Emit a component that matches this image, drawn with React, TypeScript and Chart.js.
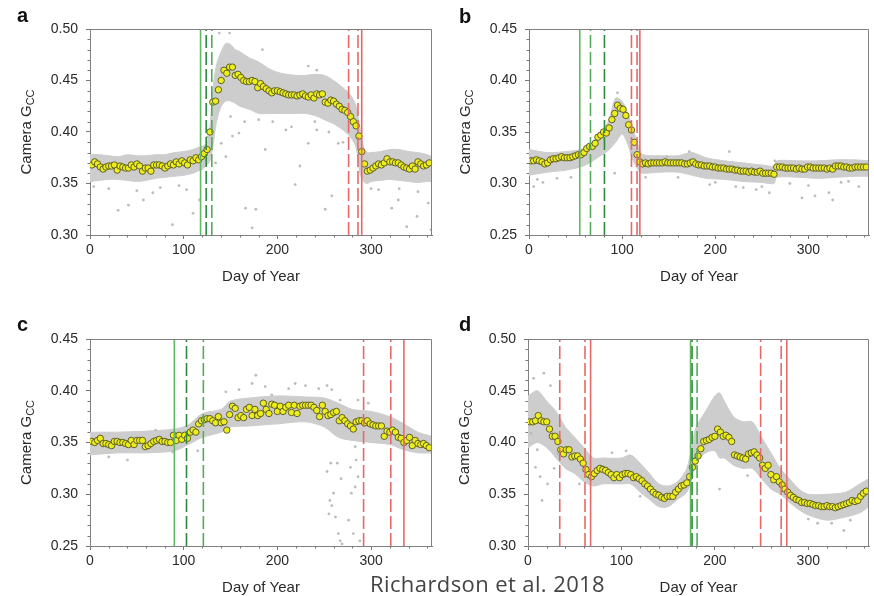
import React, { useEffect, useRef } from "react";
import Chart from "chart.js/auto";

const FONT = '"Liberation Sans", Arial, Helvetica, sans-serif';

// ---- shared x data ----
const DAYS = [2,5,8,11,14,17,20,23,26,29,32,35,38,41,44,47,50,53,56,59,62,65,68,71,74,77,80,83,86,89,92,95,98,101,104,107,110,113,116,119,122,125,128,131,134,137,140,143,146,149,152,155,158,161,164,167,170,173,176,179,182,185,188,191,194,197,200,203,206,209,212,215,218,221,224,227,230,233,236,239,242,245,248,251,254,257,260,263,266,269,272,275,278,281,284,287,290,293,296,299,302,305,308,311,314,317,320,323,326,329,332,335,338,341,344,347,350,353,356,359,362];
const X_TICKS = [0, 100, 200, 300];

// ---- panel a ----
const A_GCC = [0.368,0.371,0.369,0.366,0.364,0.366,0.367,0.367,0.368,0.363,0.367,0.366,0.365,0.365,0.368,0.366,0.369,0.367,0.362,0.365,0.365,0.362,0.368,0.368,0.368,0.367,0.365,0.367,0.369,0.368,0.371,0.369,0.372,0.370,0.368,0.373,0.372,0.375,0.373,0.376,0.379,0.383,0.400,0.429,0.430,0.441,0.450,0.460,0.457,0.463,0.463,0.455,0.456,0.453,0.450,0.449,0.449,0.450,0.449,0.443,0.447,0.444,0.442,0.440,0.438,0.440,0.440,0.439,0.438,0.437,0.436,0.436,0.436,0.435,0.436,0.437,0.435,0.434,0.436,0.433,0.437,0.436,0.437,0.429,0.428,0.431,0.430,0.427,0.425,0.422,0.421,0.419,0.415,0.410,0.406,0.396,0.381,0.369,0.362,0.363,0.365,0.367,0.369,0.368,0.370,0.374,0.371,0.371,0.370,0.370,0.368,0.366,0.365,0.364,0.367,0.364,0.371,0.369,0.367,0.368,0.370];
const A_BAND_DAYS = [0,10,20,30,40,50,60,70,80,90,100,110,115,120,125,128,131,135,140,145,150,155,160,170,180,190,200,210,220,230,240,250,260,270,278,284,288,292,296,300,310,320,330,340,350,360,365];
const A_BAND_HI = [0.378,0.378,0.377,0.376,0.378,0.377,0.377,0.378,0.378,0.380,0.381,0.383,0.385,0.386,0.390,0.405,0.440,0.465,0.478,0.486,0.485,0.480,0.478,0.472,0.468,0.462,0.458,0.456,0.455,0.455,0.456,0.455,0.450,0.443,0.436,0.425,0.405,0.385,0.380,0.380,0.381,0.383,0.383,0.381,0.380,0.378,0.376];
const A_BAND_LO = [0.352,0.353,0.354,0.354,0.353,0.352,0.353,0.355,0.356,0.357,0.358,0.360,0.362,0.364,0.368,0.372,0.385,0.410,0.425,0.430,0.430,0.428,0.425,0.422,0.418,0.418,0.418,0.418,0.418,0.418,0.416,0.412,0.408,0.402,0.395,0.385,0.360,0.352,0.350,0.352,0.353,0.354,0.353,0.352,0.351,0.352,0.352];
const A_OUT_DAYS = [4,30,41,57,67,88,103,110,117,134,138,140,145,149,152,159,166,173,177,180,184,187,209,219,224,233,233,242,242,251,258,265,308,322,329,338,349,361,364,20,50,75,95,125,150,165,195,215,240,255,270,300,330,350];
const A_OUT_GCC = [0.347,0.324,0.329,0.334,0.341,0.310,0.344,0.321,0.334,0.370,0.496,0.389,0.376,0.496,0.396,0.399,0.326,0.307,0.325,0.412,0.480,0.383,0.402,0.349,0.367,0.464,0.389,0.460,0.402,0.325,0.338,0.389,0.344,0.326,0.334,0.308,0.318,0.331,0.305,0.345,0.343,0.346,0.348,0.395,0.415,0.410,0.410,0.405,0.410,0.400,0.390,0.345,0.345,0.342];
const A_Y_TICKS = [0.30, 0.35, 0.40, 0.45, 0.50];
const A_GREEN_SOLID = [118];
const A_GREEN_DASH_DARK = [124];
const A_GREEN_DASH_LIGHT = [130];
const A_RED_DASH = [276, 286];
const A_RED_SOLID = [290];

// ---- panel b ----
const B_GCC = [0.322,0.322,0.323,0.322,0.321,0.319,0.320,0.323,0.324,0.324,0.325,0.326,0.325,0.325,0.325,0.326,0.327,0.328,0.328,0.330,0.334,0.336,0.336,0.339,0.345,0.347,0.350,0.349,0.354,0.362,0.368,0.376,0.373,0.372,0.366,0.357,0.352,0.340,0.328,0.321,0.319,0.320,0.319,0.320,0.320,0.320,0.320,0.320,0.321,0.320,0.320,0.320,0.320,0.320,0.320,0.319,0.319,0.320,0.321,0.319,0.318,0.318,0.317,0.317,0.317,0.316,0.316,0.315,0.315,0.315,0.314,0.314,0.314,0.313,0.313,0.312,0.312,0.312,0.311,0.312,0.311,0.311,0.312,0.310,0.310,0.310,0.310,0.309,0.316,0.316,0.316,0.315,0.315,0.315,0.315,0.314,0.315,0.314,0.314,0.316,0.316,0.315,0.315,0.315,0.315,0.315,0.314,0.315,0.314,0.317,0.317,0.317,0.316,0.316,0.315,0.315,0.316,0.316,0.316,0.316,0.316];
const B_BAND_DAYS = [0,20,40,55,65,75,85,93,100,106,112,118,122,140,160,175,190,210,230,250,263,266,290,310,330,350,365];
const B_BAND_HI = [0.333,0.330,0.331,0.333,0.338,0.347,0.360,0.383,0.380,0.368,0.352,0.335,0.328,0.327,0.327,0.330,0.325,0.322,0.320,0.318,0.317,0.322,0.322,0.322,0.323,0.323,0.322];
const B_BAND_LO = [0.308,0.311,0.313,0.316,0.320,0.326,0.332,0.340,0.348,0.338,0.322,0.312,0.310,0.311,0.311,0.308,0.305,0.304,0.302,0.301,0.300,0.306,0.306,0.305,0.306,0.307,0.307];
const B_OUT_DAYS = [5,9,15,30,45,89,92,95,148,172,194,200,215,222,230,244,250,258,264,280,293,300,307,322,326,335,343,354,110,125,160];
const B_OUT_GCC = [0.297,0.304,0.301,0.305,0.306,0.355,0.310,0.388,0.326,0.331,0.299,0.301,0.331,0.297,0.296,0.294,0.297,0.291,0.322,0.300,0.286,0.298,0.288,0.291,0.284,0.301,0.302,0.297,0.330,0.306,0.306];
const B_Y_TICKS = [0.25, 0.30, 0.35, 0.40, 0.45];
const B_GREEN_SOLID = [54.5];
const B_GREEN_DASH_DARK = [81];
const B_GREEN_DASH_LIGHT = [66];
const B_RED_DASH = [110, 116];
const B_RED_SOLID = [119];

// ---- panel c ----
const C_GCC = [0.351,0.350,0.352,0.354,0.349,0.349,0.348,0.347,0.351,0.351,0.350,0.350,0.349,0.348,0.352,0.348,0.352,0.352,0.352,0.346,0.347,0.349,0.351,0.352,0.353,0.351,0.351,0.350,0.350,0.357,0.352,0.357,0.353,0.357,0.354,0.360,0.362,0.360,0.368,0.371,0.372,0.373,0.373,0.371,0.369,0.375,0.369,0.370,0.362,0.377,0.385,0.383,0.374,0.376,0.374,0.382,0.384,0.376,0.382,0.376,0.378,0.388,0.382,0.378,0.387,0.386,0.380,0.385,0.380,0.384,0.386,0.379,0.386,0.378,0.385,0.386,0.386,0.386,0.386,0.384,0.381,0.375,0.386,0.380,0.376,0.377,0.379,0.380,0.371,0.374,0.371,0.368,0.366,0.363,0.370,0.371,0.371,0.369,0.371,0.368,0.367,0.366,0.366,0.366,0.356,0.361,0.360,0.362,0.360,0.355,0.354,0.350,0.352,0.355,0.347,0.352,0.349,0.348,0.349,0.347,0.345];
const C_BAND_DAYS = [0,30,60,90,105,120,140,150,170,200,230,250,265,280,300,320,335,350,365];
const C_BAND_HI = [0.360,0.360,0.361,0.363,0.367,0.378,0.382,0.390,0.393,0.395,0.394,0.393,0.388,0.382,0.380,0.375,0.368,0.360,0.356];
const C_BAND_LO = [0.338,0.340,0.340,0.342,0.348,0.355,0.360,0.365,0.366,0.368,0.370,0.365,0.355,0.352,0.350,0.348,0.343,0.340,0.340];
const C_OUT_DAYS = [253,256,258,255,260,262,265,267,269,276,279,283,284,286,281,288,264,268,257,278,283,173,177,187,194,212,219,230,244,253,258,267,286,297,145,159,88,40,20,70,115];
const C_OUT_GCC = [0.322,0.294,0.289,0.281,0.301,0.278,0.262,0.255,0.252,0.275,0.301,0.307,0.333,0.317,0.262,0.255,0.330,0.315,0.330,0.326,0.346,0.407,0.415,0.404,0.396,0.402,0.407,0.405,0.402,0.405,0.401,0.391,0.391,0.388,0.399,0.401,0.341,0.333,0.336,0.362,0.342];
const C_Y_TICKS = [0.25, 0.30, 0.35, 0.40, 0.45];
const C_GREEN_SOLID = [90];
const C_GREEN_DASH_DARK = [103];
const C_GREEN_DASH_LIGHT = [121];
const C_RED_DASH = [292, 321];
const C_RED_SOLID = [335];

// ---- panel d ----
const D_GCC = [0.420,0.420,0.421,0.426,0.421,0.420,0.420,0.413,0.406,0.406,0.401,0.393,0.389,0.393,0.393,0.386,0.387,0.387,0.384,0.380,0.374,0.369,0.367,0.370,0.373,0.375,0.374,0.373,0.371,0.369,0.366,0.369,0.366,0.369,0.370,0.370,0.369,0.366,0.367,0.365,0.363,0.360,0.358,0.355,0.352,0.350,0.349,0.347,0.346,0.348,0.348,0.348,0.352,0.355,0.358,0.359,0.361,0.367,0.376,0.382,0.387,0.394,0.401,0.402,0.403,0.405,0.406,0.413,0.410,0.406,0.407,0.405,0.401,0.388,0.387,0.386,0.385,0.384,0.389,0.390,0.391,0.388,0.385,0.378,0.375,0.378,0.369,0.364,0.367,0.362,0.359,0.355,0.352,0.349,0.347,0.345,0.344,0.342,0.342,0.341,0.341,0.340,0.339,0.339,0.338,0.338,0.339,0.338,0.338,0.337,0.338,0.339,0.340,0.341,0.342,0.344,0.343,0.344,0.348,0.351,0.353];
const D_BAND_DAYS = [0,10,20,30,40,50,60,70,80,100,110,120,130,140,150,160,170,175,180,190,200,205,210,220,230,240,250,260,270,280,290,300,320,340,355,365];
const D_BAND_HI = [0.445,0.450,0.440,0.430,0.415,0.405,0.395,0.385,0.385,0.385,0.388,0.380,0.370,0.360,0.358,0.362,0.375,0.395,0.415,0.430,0.445,0.448,0.440,0.425,0.420,0.420,0.405,0.390,0.375,0.365,0.355,0.350,0.350,0.352,0.360,0.365];
const D_BAND_LO = [0.395,0.400,0.395,0.385,0.375,0.370,0.362,0.358,0.360,0.360,0.360,0.352,0.345,0.338,0.338,0.345,0.352,0.365,0.380,0.390,0.392,0.385,0.385,0.378,0.375,0.375,0.365,0.355,0.350,0.342,0.335,0.330,0.325,0.328,0.332,0.338];
const D_OUT_DAYS = [3,10,13,15,21,8,28,32,6,17,24,205,325,338,345,55,90,105,120,235,300,310];
const D_OUT_GCC = [0.409,0.393,0.367,0.344,0.360,0.376,0.375,0.389,0.462,0.467,0.455,0.355,0.322,0.315,0.325,0.360,0.390,0.392,0.348,0.368,0.326,0.322];
const D_Y_TICKS = [0.30, 0.35, 0.40, 0.45, 0.50];
const D_GREEN_SOLID = [174];
const D_GREEN_DASH_DARK = [175.6];
const D_GREEN_DASH_LIGHT = [181];
const D_RED_DASH = [34, 61, 249, 271];
const D_RED_SOLID = [67, 277];

const C_GREEN = "#62b862";
const C_GREEN_DARK = "#2f8a3c";
const C_GREEN_LIGHT = "#52ad58";
const C_RED = "#e46a6a";
const DASH = [13, 4];
const BAND = "#cdcdcd";

type VLine = { days: number[]; color: string; dash: number[] };

type PanelProps = {
  left: number; top: number; width: number; height: number;
  area: { left: number; right: number; top: number; bottom: number };
  label: string; labelX: number; labelY: number;
  gcc: number[];
  bandDays: number[]; bandHi: number[]; bandLo: number[];
  outDays: number[]; outGcc: number[];
  yTicks: number[];
  vlines: VLine[];
};

function Panel(p: PanelProps) {
  const ref = useRef<HTMLCanvasElement | null>(null);
  useEffect(() => {
    if (!ref.current) return;
    const yMin = p.yTicks[0];
    const yMax = p.yTicks[p.yTicks.length - 1];
    const datasets: any[] = [];
    p.vlines.forEach((v) =>
      v.days.forEach((d) =>
        datasets.push({
          type: "line",
          data: [{ x: d, y: yMin }, { x: d, y: yMax }],
          borderColor: v.color,
          borderWidth: 1.6,
          borderDash: v.dash,
          pointRadius: 0,
          fill: false,
          tension: 0,
          order: 0,
        })
      )
    );
    datasets.push({
      type: "scatter",
      data: DAYS.map((d, i) => ({ x: d, y: p.gcc[i] })),
      pointRadius: 3.2,
      pointBackgroundColor: "#eded1c",
      pointBorderColor: "#5e5e2c",
      pointBorderWidth: 1,
      order: 1,
    });
    datasets.push({
      type: "scatter",
      data: p.outDays.map((d, i) => ({ x: d, y: p.outGcc[i] })),
      pointRadius: 1.4,
      pointBackgroundColor: "#bcbcbc",
      pointBorderWidth: 0,
      order: 2,
    });
    const loIdx = datasets.length;
    datasets.push({
      type: "line",
      data: p.bandDays.map((d, i) => ({ x: d, y: p.bandLo[i] })),
      borderColor: BAND,
      borderWidth: 1,
      pointRadius: 0,
      fill: false,
      tension: 0.3,
      order: 4,
    });
    datasets.push({
      type: "line",
      data: p.bandDays.map((d, i) => ({ x: d, y: p.bandHi[i] })),
      borderColor: BAND,
      borderWidth: 1,
      backgroundColor: BAND,
      pointRadius: 0,
      fill: loIdx,
      tension: 0.3,
      order: 3,
    });

    const area = p.area;
    const deco = {
      id: "deco",
      afterDraw(chart: any) {
        const { ctx, chartArea: ca, scales } = chart;
        const x = scales.x, y = scales.y;
        ctx.save();
        ctx.strokeStyle = "#808080";
        ctx.lineWidth = 1;
        ctx.beginPath();
        ctx.moveTo(Math.round(ca.left) + 0.5, Math.round(ca.top) + 0.5);
        ctx.lineTo(Math.round(ca.right) - 0.5, Math.round(ca.top) + 0.5);
        ctx.lineTo(Math.round(ca.right) - 0.5, Math.round(ca.bottom) + 0.5);
        ctx.stroke();
        // minor ticks
        ctx.strokeStyle = "#777";
        ctx.beginPath();
        for (let v = 20; v <= 365; v += 20) {
          if (v % 100 === 0) continue;
          const px = Math.round(x.getPixelForValue(v)) + 0.5;
          ctx.moveTo(px, Math.round(ca.bottom));
          ctx.lineTo(px, Math.round(ca.bottom) + 2.5);
        }
        const k0 = Math.round(yMin * 100), k1 = Math.round(yMax * 100);
        for (let k = k0 + 1; k < k1; k++) {
          if (k % 5 === 0) continue;
          const py = Math.round(y.getPixelForValue(k / 100)) + 0.5;
          ctx.moveTo(Math.round(ca.left) - 2.5, py);
          ctx.lineTo(Math.round(ca.left), py);
        }
        ctx.stroke();
        // titles
        ctx.fillStyle = "#2a2a2a";
        ctx.font = `15px ${FONT}`;
        ctx.textAlign = "center";
        ctx.textBaseline = "alphabetic";
        ctx.fillText("Day of Year", (ca.left + ca.right) / 2, ca.bottom + 46);
        // y title with subscript
        const main = "Camera G";
        const sub = "CC";
        ctx.font = `15px ${FONT}`;
        const wm = ctx.measureText(main).width;
        ctx.font = `11px ${FONT}`;
        const ws = ctx.measureText(sub).width;
        const tot = wm + ws;
        ctx.translate(ca.left - 63, (ca.top + ca.bottom) / 2);
        ctx.rotate(-Math.PI / 2);
        ctx.textAlign = "left";
        ctx.textBaseline = "middle";
        ctx.font = `15px ${FONT}`;
        ctx.fillText(main, -tot / 2, 0);
        ctx.font = `11px ${FONT}`;
        ctx.fillText(sub, -tot / 2 + wm, 4);
        ctx.setTransform(1, 0, 0, 1, 0, 0);
        // panel label
        ctx.font = `bold 20px ${FONT}`;
        ctx.fillStyle = "#111";
        ctx.textAlign = "left";
        ctx.textBaseline = "alphabetic";
        ctx.fillText(p.label, p.labelX, p.labelY);
        ctx.restore();
      },
    };

    const tickFont = { family: FONT, size: 14 };
    const chart = new Chart(ref.current, {
      type: "scatter",
      data: { datasets },
      options: {
        animation: false,
        responsive: false,
        devicePixelRatio: 1,
        events: [],
        layout: { padding: { left: 0, top: area.top, right: p.width - area.right, bottom: 0 } },
        plugins: { legend: { display: false }, tooltip: { enabled: false } },
        scales: {
          x: {
            type: "linear",
            position: "bottom",
            min: 0,
            max: 365,
            afterBuildTicks: (s: any) => { s.ticks = X_TICKS.map((v) => ({ value: v })); },
            afterFit: (s: any) => { s.height = p.height - area.bottom; },
            ticks: { color: "#2a2a2a", font: tickFont, padding: 3, maxRotation: 0, autoSkip: false, callback: (v: any) => String(v) },
            grid: { drawOnChartArea: false, drawTicks: true, tickLength: 4, tickColor: "#777" },
            border: { display: true, color: "#808080", width: 1 },
          },
          y: {
            type: "linear",
            position: "left",
            min: yMin,
            max: yMax,
            afterBuildTicks: (s: any) => { s.ticks = p.yTicks.map((v) => ({ value: v })); },
            afterFit: (s: any) => { s.width = area.left; },
            ticks: { color: "#2a2a2a", font: tickFont, padding: 8, autoSkip: false, callback: (v: any) => Number(v).toFixed(2) },
            grid: { drawOnChartArea: false, drawTicks: true, tickLength: 4, tickColor: "#777" },
            border: { display: true, color: "#808080", width: 1 },
          },
        },
      } as any,
      plugins: [deco],
    });
    return () => chart.destroy();
  }, []);
  return (
    <canvas
      ref={ref}
      width={p.width}
      height={p.height}
      style={{ position: "absolute", left: p.left, top: p.top, width: p.width, height: p.height }}
    />
  );
}

function lines(gs: number[], gdd: number[], gdl: number[], rd: number[], rs: number[]): VLine[] {
  return [
    { days: rs, color: C_RED, dash: [] },
    { days: rd, color: C_RED, dash: DASH },
    { days: gdl, color: C_GREEN_LIGHT, dash: DASH },
    { days: gdd, color: C_GREEN_DARK, dash: DASH },
    { days: gs, color: C_GREEN, dash: [] },
  ];
}

export default function App() {
  return (
    <div style={{ position: "absolute", left: 0, top: 0, width: 874, height: 596, background: "#fff", overflow: "hidden" }}>
      <Panel left={0} top={0} width={437} height={300} area={{ left: 90, right: 433, top: 29, bottom: 235 }}
        label="a" labelX={17} labelY={22} gcc={A_GCC} bandDays={A_BAND_DAYS} bandHi={A_BAND_HI} bandLo={A_BAND_LO}
        outDays={A_OUT_DAYS} outGcc={A_OUT_GCC} yTicks={A_Y_TICKS}
        vlines={lines(A_GREEN_SOLID, A_GREEN_DASH_DARK, A_GREEN_DASH_LIGHT, A_RED_DASH, A_RED_SOLID)} />
      <Panel left={437} top={0} width={437} height={300} area={{ left: 92, right: 435, top: 29, bottom: 235 }}
        label="b" labelX={22} labelY={23} gcc={B_GCC} bandDays={B_BAND_DAYS} bandHi={B_BAND_HI} bandLo={B_BAND_LO}
        outDays={B_OUT_DAYS} outGcc={B_OUT_GCC} yTicks={B_Y_TICKS}
        vlines={lines(B_GREEN_SOLID, B_GREEN_DASH_DARK, B_GREEN_DASH_LIGHT, B_RED_DASH, B_RED_SOLID)} />
      <Panel left={0} top={300} width={437} height={296} area={{ left: 90, right: 433, top: 39, bottom: 246 }}
        label="c" labelX={17} labelY={31} gcc={C_GCC} bandDays={C_BAND_DAYS} bandHi={C_BAND_HI} bandLo={C_BAND_LO}
        outDays={C_OUT_DAYS} outGcc={C_OUT_GCC} yTicks={C_Y_TICKS}
        vlines={lines(C_GREEN_SOLID, C_GREEN_DASH_DARK, C_GREEN_DASH_LIGHT, C_RED_DASH, C_RED_SOLID)} />
      <Panel left={437} top={300} width={437} height={296} area={{ left: 91, right: 435, top: 39, bottom: 246 }}
        label="d" labelX={22} labelY={31} gcc={D_GCC} bandDays={D_BAND_DAYS} bandHi={D_BAND_HI} bandLo={D_BAND_LO}
        outDays={D_OUT_DAYS} outGcc={D_OUT_GCC} yTicks={D_Y_TICKS}
        vlines={lines(D_GREEN_SOLID, D_GREEN_DASH_DARK, D_GREEN_DASH_LIGHT, D_RED_DASH, D_RED_SOLID)} />
      <div style={{ position: "absolute", left: 370, top: 572, fontFamily: '"Open Sans", sans-serif', fontSize: 22, lineHeight: "22px", letterSpacing: "0.4px", color: "#444", whiteSpace: "nowrap" }}>
        Richardson et al. 2018
      </div>
    </div>
  );
}
